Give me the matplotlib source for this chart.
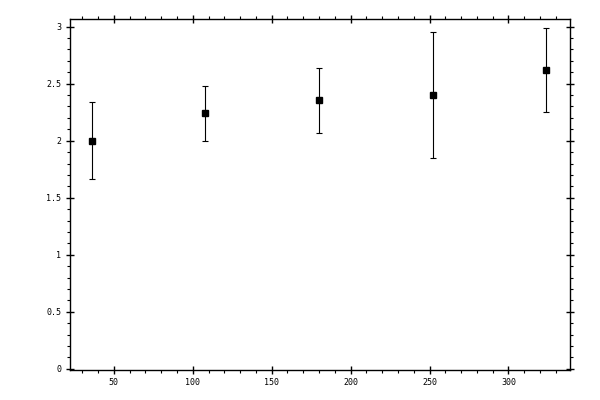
import numpy as np
import matplotlib.pyplot as plt
from matplotlib.ticker import MultipleLocator

# data
x = [36, 108, 180, 252, 324]
y = [2.00, 2.24, 2.355, 2.40, 2.62]
yerr = [0.34, 0.24, 0.285, 0.55, 0.37]

plt.rcParams['font.family'] = 'DejaVu Sans Mono'

fig = plt.figure(figsize=(6, 4), dpi=100)
ax = fig.add_axes([0.116, 0.075, 0.834, 0.877])

ax.errorbar(x, y, yerr=yerr, fmt='s', color='black', markersize=5,
            elinewidth=0.8, capsize=2, capthick=0.8)

ax.set_xlim(22, 339)
ax.set_ylim(-0.01, 3.065)

ax.xaxis.set_major_locator(MultipleLocator(50))
ax.xaxis.set_minor_locator(MultipleLocator(10))
ax.yaxis.set_major_locator(MultipleLocator(0.5))
ax.yaxis.set_minor_locator(MultipleLocator(0.1))
ax.yaxis.set_major_formatter(plt.FuncFormatter(lambda v, p: f'{v:g}'))

for s in ax.spines.values():
    s.set_linewidth(1.0)

ax.tick_params(which='major', direction='inout', length=6, width=1,
               top=True, right=True, labelsize=6, pad=3)
ax.tick_params(which='minor', direction='out', length=2.5, width=0.8,
               top=True, right=True)

fig.savefig('out.png', dpi=100)
